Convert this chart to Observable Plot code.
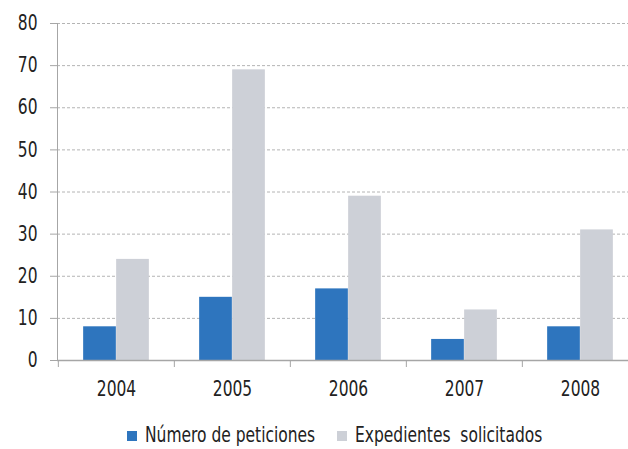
<!DOCTYPE html>
<html>
<head>
<meta charset="utf-8">
<script src="https://cdn.jsdelivr.net/npm/d3@7"></script>
<script src="https://cdn.jsdelivr.net/npm/@observablehq/plot@0.6"></script>
<style>
  body { margin: 0; background: #fff; font-family: "DejaVu Sans Condensed", "DejaVu Sans", sans-serif; }
  #chart svg { display: block; }
  .legend { position: relative; height: 39px; font-size: 21px; color: #222; }
  .legend .sw { position: absolute; top: 21px; width: 10px; height: 10px; }
  .legend .lab { position: absolute; top: 15px; line-height: 21px; white-space: pre; transform: scaleX(0.82); transform-origin: 0 0; }
</style>
</head>
<body>
<div id="chart"></div>
<script>
const years = ["2004", "2005", "2006", "2007", "2008"];
const peticiones = [8, 15, 17, 5, 8];
const expedientes = [24, 69, 39, 12, 31];
const seriesNames = ["Número de peticiones", "Expedientes  solicitados"];
const seriesColors = ["#2e75be", "#cdd0d7"];
const yTicks = [0, 10, 20, 30, 40, 50, 60, 70, 80];

const W = 628, H = 410, mL = 57, mR = -10.5, mT = 23, mB = 50;
const step = (W - mL - mR) / years.length;
const barW = 33;

const rows = years.map((y, i) => ({year: y, pet: peticiones[i], exp: expedientes[i]}));

const chart = Plot.plot({
  width: W, height: H,
  marginLeft: mL, marginRight: mR, marginTop: mT, marginBottom: mB,
  style: {fontFamily: '"DejaVu Sans Condensed", "DejaVu Sans", sans-serif', fontSize: "21px", color: "#222"},
  x: {type: "band", domain: years, padding: 0, label: null},
  y: {domain: [0, 80], label: null},
  marks: [
    Plot.gridY(yTicks.filter(d => d > 0), {stroke: "#b4b4b4", strokeOpacity: 1, strokeDasharray: "3,2"}),
    Plot.barY(rows, {x: "year", y: "pet", fill: seriesColors[0], insetLeft: step / 2 - barW, insetRight: step / 2}),
    Plot.barY(rows, {x: "year", y: "exp", fill: seriesColors[1], insetLeft: step / 2, insetRight: step / 2 - barW}),
    Plot.frame({anchor: "left", stroke: "#a6a6a6"}),
    Plot.ruleY([0], {stroke: "#a6a6a6", strokeWidth: 1.5}),
    Plot.axisY(yTicks, {tickSize: 7, tickPadding: 13, stroke: "#a6a6a6", fill: "#222", label: null}),
    Plot.axisX(years, {tickSize: 7, dx: -step / 2, stroke: "#a6a6a6", tickFormat: () => "", label: null}),
    Plot.axisX(years, {tickSize: 0, tickPadding: 21, fill: "#222", label: null})
  ]
});
document.getElementById("chart").append(chart);

// condense the glyphs horizontally (narrow typeface in the reference)
d3.select(chart).selectAll("text").each(function () {
  const t = this.getAttribute("transform") || "";
  const xa = this.getAttribute("x");
  let shift = "";
  if (xa != null && /^-?[\d.]+$/.test(xa.trim())) {
    shift = ` translate(${+xa},0)`;
    this.removeAttribute("x");
  }
  this.setAttribute("transform", `${t}${shift} scale(0.82,1)`);
});

const legend = document.createElement("div");
legend.className = "legend";
const legendX = [127, 337];
seriesNames.forEach((name, i) => {
  const sw = document.createElement("span");
  sw.className = "sw";
  sw.style.background = seriesColors[i];
  sw.style.left = legendX[i] + "px";
  const t = document.createElement("span");
  t.className = "lab";
  t.style.left = (legendX[i] + 18) + "px";
  t.textContent = name;
  legend.append(sw, t);
});
document.body.append(legend);
</script>
</body>
</html>
